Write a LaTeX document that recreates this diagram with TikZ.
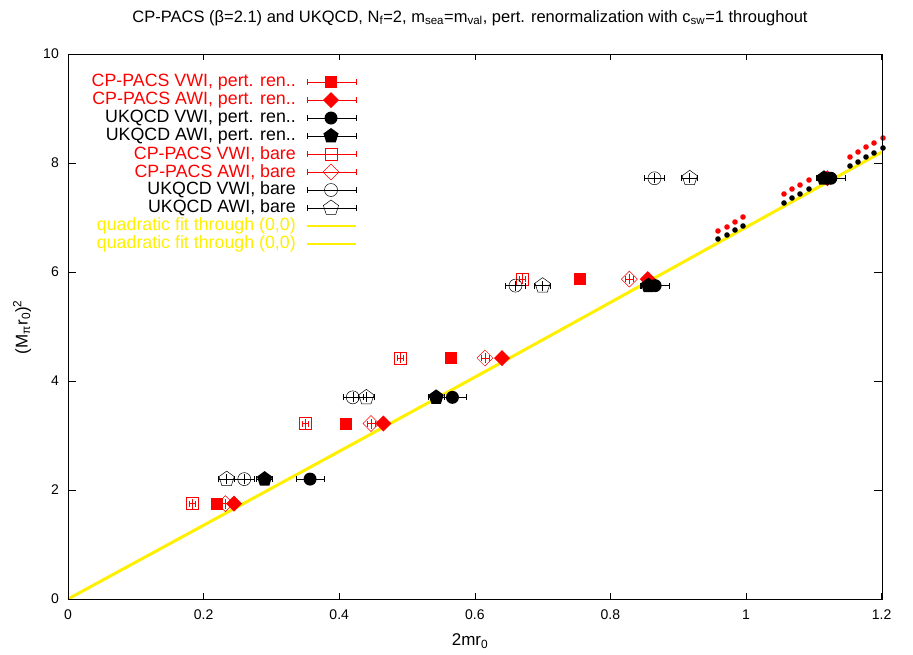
\documentclass[tikz,border=0pt]{standalone}
\usepackage{fontspec}
\setmainfont{Liberation Sans}
\usetikzlibrary{shapes.geometric}
\definecolor{fity}{RGB}{255,240,0}
\newcommand\sbs[1]{\textsubscript{#1}}
\newcommand\sps[1]{\textsuperscript{#1}}
\tikzset{
 mk/.style={inner sep=0pt,outer sep=0pt},
 fsq/.style={mk,rectangle,fill=red,minimum size=12pt},
 fdi/.style={mk,diamond,fill=red,minimum size=16pt},
 fci/.style={mk,circle,fill=black,minimum size=13pt},
 fpe/.style={mk,regular polygon,regular polygon sides=5,fill=black,minimum size=16pt},
 osq/.style={mk,rectangle,draw=red,line width=0.5pt,minimum size=12pt},
 odi/.style={mk,diamond,draw=red,line width=0.5pt,minimum size=16pt},
 oci/.style={mk,circle,draw=black,line width=0.5pt,minimum size=13pt},
 ope/.style={mk,regular polygon,regular polygon sides=5,draw=black,line width=0.5pt,minimum size=16pt},
 eb/.style={line width=0.5pt},
 lab/.style={font=\fontsize{17.8}{20}\selectfont,anchor=east,inner sep=0pt},
 tick/.style={font=\fontsize{14}{16}\selectfont,inner sep=0pt},
}
\newcommand\pnt[5]{% style, x, y, dx(px), color
 \draw[eb,#5] ([xshift=-#4pt]#2,#3) -- ([xshift=#4pt]#2,#3)
   ([xshift=-#4pt,yshift=-3pt]#2,#3) -- ([xshift=-#4pt,yshift=3pt]#2,#3)
   ([xshift=#4pt,yshift=-3pt]#2,#3) -- ([xshift=#4pt,yshift=3pt]#2,#3)
   ([yshift=-5pt]#2,#3) -- ([yshift=5pt]#2,#3);
 \node[#1] at (#2,#3) {};}
\begin{document}
\begin{tikzpicture}[x=1pt,y=-1pt]
\useasboundingbox[fill=white] (0,0) rectangle (913,654);
\node[font=\fontsize{16.5}{18}\selectfont] (title) at (470,18) {CP-PACS (β=2.1) and UKQCD, N\sbs{f}=2, m\sbs{sea}=m\sbs{val}, pert. renormalization with c\sbs{sw}=1 throughout};
\node[font=\fontsize{17}{19}\selectfont,rotate=90] (yl) at (22,327) {(M\sbs{π}r\sbs{0})\sps{2}};
\node[font=\fontsize{17}{19}\selectfont] (xl) at (470,641) {2mr\sbs{0}};
\begin{scope}[shift={(68,599)},x=678pt,y=54.5pt]
 \foreach \xv/\xt in {0/0,0.2/0.2,0.4/0.4,0.6/0.6,0.8/0.8,1/1,1.2/1.2}{
  \draw[line width=0.6pt] (\xv,0) -- ++(0,6pt) (\xv,10) -- ++(0,-6pt);
  \node[tick] at ([yshift=-16pt]\xv,0) {\xt};}
 \foreach \yv in {0,2,4,6,8,10}{
  \draw[line width=0.6pt] (0,\yv) -- ++(8pt,0) (1.2,\yv) -- ++(-8pt,0);
  \node[tick,anchor=east] at ([xshift=-9pt]0,\yv) {\yv};}
 \draw[fity,line width=3pt] (0,0) .. controls (0.6,4.06) .. (1.2,8.2);
 \foreach \a/\b in {0.22/1.75,0.41/3.22,0.565/4.42,0.755/5.87,1.12/7.72} {\pnt{fsq}{\a}{\b}{4}{red}}
 \foreach \a/\b in {0.183/1.75,0.35/3.22,0.49/4.42,0.67/5.87} {\pnt{osq}{\a}{\b}{3}{red}}
 \foreach \a/\b in {0.232/1.75,0.447/3.22,0.615/4.42,0.828/5.87} {\pnt{odi}{\a}{\b}{4}{red}}
 \foreach \a/\b in {0.245/1.75,0.465/3.22,0.64/4.42,0.855/5.87,1.12/7.72} {\pnt{fdi}{\a}{\b}{4}{red}}
 \foreach \a/\b in {0.26/2.2,0.42/3.7,0.66/5.75,0.865/7.72} {\pnt{oci}{\a}{\b}{10}{black}}
 \foreach \a/\b in {0.234/2.2,0.44/3.7,0.70/5.75,0.917/7.72} {\pnt{ope}{\a}{\b}{8}{black}}
 \foreach \a/\b in {0.29/2.2,0.543/3.7,0.856/5.75,1.115/7.72} {\pnt{fpe}{\a}{\b}{8}{black}}
 \foreach \a/\b in {0.357/2.2,0.567/3.7,0.866/5.75,1.125/7.72} {\pnt{fci}{\a}{\b}{14}{black}}
\end{scope}
\foreach \x/\yb/\yr in {718/239/231,727/235/227,735/230/222,743/226/217,
  784/203/194,792/198/189,800/194/185,809/189/180,
  850/166/157,858/162/152,866/157/147,874/153/143,883/148/138}{
  \fill[black] (\x,\yb) circle (2.8pt);
  \fill[red] (\x,\yr) circle (2.8pt);}
\draw[line width=0.7pt] (68,54) rectangle (882,599);
\foreach \i/\t/\c/\s in {0/CP-PACS VWI{,} pert. ren../red/fsq,1/CP-PACS AWI{,} pert. ren../red/fdi,
  2/UKQCD VWI{,} pert. ren../black/fci,3/UKQCD AWI{,} pert. ren../black/fpe,
  4/CP-PACS VWI{,} bare/red/osq,5/CP-PACS AWI{,} bare/red/odi,
  6/UKQCD VWI{,} bare/black/oci,7/UKQCD AWI{,} bare/black/ope}{
  \node[lab,text=\c] at (296,{82+18*\i}) {\t};
  \draw[eb,\c] (307,{82+18*\i}) -- (356,{82+18*\i})
    (307,{79+18*\i}) -- (307,{85+18*\i}) (356,{79+18*\i}) -- (356,{85+18*\i});
  \node[\s] at (331,{82+18*\i}) {};}
\foreach \i in {8,9}{
  \node[lab,text=fity] at (296,{82+18*\i}) {quadratic fit through (0,0)};
  \draw[fity,line width=2pt] (307,{82+18*\i}) -- (356,{82+18*\i});}
\end{tikzpicture}
\end{document}
